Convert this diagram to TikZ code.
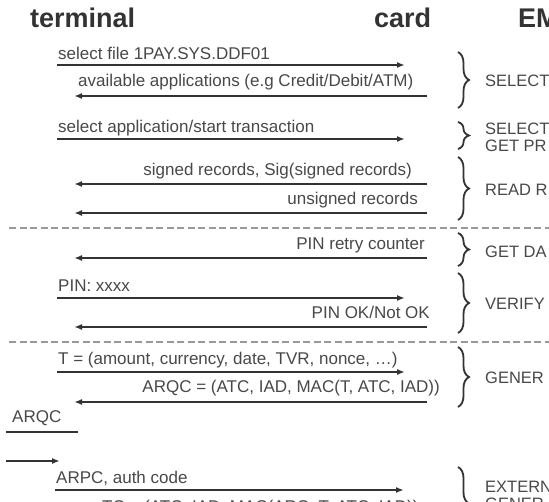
\documentclass[tikz,border=0pt]{standalone}
\usepackage{fontspec}
\setmainfont{Liberation Sans}
\usetikzlibrary{arrows.meta, decorations.pathreplacing, positioning}

\definecolor{inkgray}{HTML}{333333}
\definecolor{txtgray}{HTML}{484848}

\begin{document}
\begin{tikzpicture}[
    x=1pt, y=-1pt,
    every node/.style={inner sep=0pt, text=txtgray},
    head/.style={font=\fontsize{27}{30}\selectfont\bfseries, text=inkgray, anchor=base west},
    msgl/.style={font=\fontsize{17}{19}\selectfont, anchor=base west},
    msgr/.style={font=\fontsize{17}{19}\selectfont, anchor=base east},
    cmd/.style={font=\fontsize{16.5}{17}\selectfont, anchor=west, align=left},
    arr/.style={-{Latex[length=8pt,width=6pt]}, line width=2.2pt, draw=inkgray},
    brc/.style={decorate, decoration={brace, amplitude=11pt}, line width=1.8pt, draw=inkgray},
    sep/.style={dash pattern=on 7pt off 3.5pt, line width=1.2pt, draw=gray!80},
]
\clip (0,0) rectangle (549,502);

% headers
\node[head] (terminal) at (30,28) {terminal};
\node[head] (card)     at (374,28) {card};
\node[head] (emv)      at (518,28) {EMV};

% SELECT PSE
\coordinate (t1) at (57,65);   \coordinate (c1) at (405,65);
\coordinate (t2) at (74,96);   \coordinate (c2) at (427,96);
\node[msgl] (m1) at (58,60)  {select file 1PAY.SYS.DDF01};
\node[msgl] (m2) at (78,87)  {available applications (e.g Credit/Debit/ATM)};
\draw[arr] (t1) -- (c1);
\draw[arr] (c2) -- (t2);

% select application
\coordinate (t3) at (57,139);  \coordinate (c3) at (405,139);
\node[msgl] (m3) at (58,133) {select application/start transaction};
\draw[arr] (t3) -- (c3);

% read records
\coordinate (t4) at (74,184);  \coordinate (c4) at (427,184);
\coordinate (t5) at (74,213);  \coordinate (c5) at (427,213);
\node[msgr] (m4) at (412,176) {signed records, Sig(signed records)};
\node[msgr] (m5) at (418,205) {unsigned records};
\draw[arr] (c4) -- (t4);
\draw[arr] (c5) -- (t5);

\coordinate (s1a) at (9,228);  \coordinate (s1b) at (549,228);
\draw[sep] (s1a) -- (s1b);

% PIN
\coordinate (t6) at (74,258);  \coordinate (c6) at (427,258);
\coordinate (t7) at (57,298);  \coordinate (c7) at (405,298);
\coordinate (t8) at (74,327);  \coordinate (c8) at (427,327);
\node[msgr] (m6) at (425,250) {PIN retry counter};
\node[msgl] (m7) at (58,292)  {PIN: xxxx};
\node[msgr] (m8) at (430,319) {PIN OK/Not OK};
\draw[arr] (c6) -- (t6);
\draw[arr] (t7) -- (c7);
\draw[arr] (c8) -- (t8);

\coordinate (s2a) at (9,342);  \coordinate (s2b) at (549,342);
\draw[sep] (s2a) -- (s2b);

% cryptogram
\coordinate (t9) at (57,372);  \coordinate (c9) at (405,372);
\coordinate (t10) at (74,402); \coordinate (c10) at (427,402);
\node[msgl] (m9)  at (58,365)  {T = (amount, currency, date, TVR, nonce, \dots)};
\node[msgr] (m10) at (440,393) {ARQC = (ATC, IAD, MAC(T, ATC, IAD))};
\draw[arr] (t9) -- (c9);
\draw[arr] (c10) -- (t10);

% issuer side
\coordinate (i1) at (6,432);   \coordinate (i2) at (78,432);
\coordinate (i3) at (6,461);   \coordinate (i4) at (60,461);
\node[msgl] (arqc) at (12,423) {ARQC};
\draw[line width=2.2pt, draw=inkgray] (i1) -- (i2);
\draw[arr] (i3) -- (i4);

\coordinate (t11) at (55,490); \coordinate (c11) at (404,490);
\node[msgl] (m11) at (56,483)  {ARPC, auth code};
\node[msgl] (m12) at (102,512) {TC = (ATC, IAD, MAC(ARC, T, ATC, IAD))};
\draw[arr] (t11) -- (c11);

% EMV commands
\coordinate (b1a) at (458,52);  \coordinate (b1b) at (458,108);
\coordinate (b2a) at (458,122); \coordinate (b2b) at (458,149);
\coordinate (b3a) at (458,157); \coordinate (b3b) at (458,220);
\coordinate (b4a) at (458,233); \coordinate (b4b) at (458,266);
\coordinate (b5a) at (458,273); \coordinate (b5b) at (458,333);
\coordinate (b6a) at (458,347); \coordinate (b6b) at (458,407);
\coordinate (b7a) at (458,467); \coordinate (b7b) at (458,540);
\draw[brc] (b1a) -- (b1b);
\draw[brc] (b2a) -- (b2b);
\draw[brc] (b3a) -- (b3b);
\draw[brc] (b4a) -- (b4b);
\draw[brc] (b5a) -- (b5b);
\draw[brc] (b6a) -- (b6b);
\draw[brc] (b7a) -- (b7b);
\node[cmd] (sel)   at (485,81)  {SELECT};
\node[cmd] (gpo)   at (485,137) {SELECT\\GET PR};
\node[cmd] (rr)    at (485,190) {READ R};
\node[cmd] (gd)    at (485,252) {GET DA};
\node[cmd] (vfy)   at (485,304) {VERIFY};
\node[cmd] (gac)   at (485,378) {GENER};
\node[cmd, anchor=north west] (ext) at (485,481) {EXTERN\\GENER};

\end{tikzpicture}
\end{document}
